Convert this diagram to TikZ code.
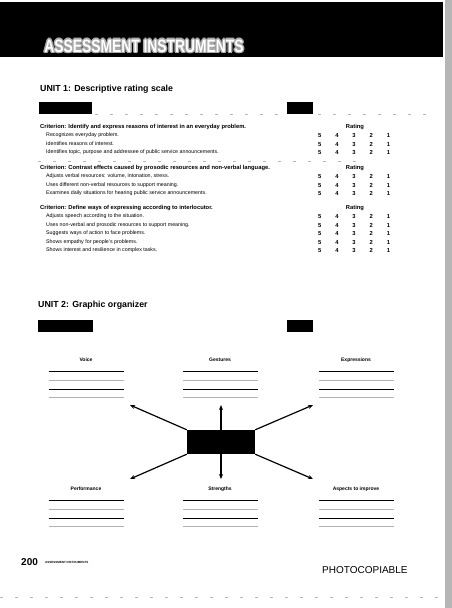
\documentclass[tikz,border=0pt]{standalone}
\usepackage{fontspec}
\setmainfont{Liberation Sans}
\usepackage{graphicx}
\usepackage{tikz}
\usetikzlibrary{arrows.meta,calc,positioning}
\definecolor{scangray}{RGB}{150,150,150}
\definecolor{halogray}{RGB}{170,170,170}
\newcommand{\bannertitle}{\scalebox{0.77}[1]{ASSESSMENT INSTRUMENTS}}

\tikzset{
  bannerfont/.style={font=\fontsize{18}{18}\selectfont\bfseries, inner sep=0},
  unithead/.style={anchor=west, font=\fontsize{8.8}{9}\selectfont\bfseries, inner sep=0},
  crit/.style={anchor=west, font=\fontsize{5.8}{6.5}\selectfont\bfseries, inner sep=0},
  item/.style={anchor=west, font=\fontsize{5.3}{6}\selectfont, inner sep=0},
  score/.style={anchor=base, font=\fontsize{5.8}{6}\selectfont\bfseries, inner sep=0},
  blackbox/.style={fill=black, inner sep=0, anchor=north west},
  orghead/.style={font=\fontsize{5}{6}\selectfont\bfseries, inner sep=0},
  scanrule/.style={scangray!70, dash pattern=on 3pt off 12pt, line width=0.6pt},
  arrowline/.style={->, line width=1.2pt},
}

\begin{document}
\begin{tikzpicture}[x=1pt, y=-1pt, >={Stealth[length=5pt, width=4pt]}]
    \useasboundingbox (0,0) rectangle (452,608);

    % Banner
    \fill[black] (0,2) rectangle (443,57);
    \fill[scangray!70] (445,0) rectangle (452,608);
    \foreach \dx/\dy [count=\i] in {-1.5/0,1.5/0,0/-1.5,0/1.5,-1/-1,1/1,-1/1,1/-1}
        \node[bannerfont, text=halogray] (halo\i) at (144+\dx,46+\dy) {\bannertitle};
    \node[bannerfont, text=white] (banner) at (144,46) {\bannertitle};

    % Unit 1: rating scale
    \node[unithead] (unitone) at (40,89) {UNIT 1: Descriptive rating scale};
    \node[blackbox, minimum width=53, minimum height=12] (nameone) at (39,102) {};
    \node[blackbox, minimum width=26, minimum height=12] (dateone) at (287,102) {};
    \draw[scanrule] (95,114) -- (285,114);
    \draw[scanrule] (318,114) -- (430,114);

    \node[crit] (critone) at (40,127) {Criterion: Identify and express reasons of interest in an everyday problem.};
    \node[crit, anchor=center] (rateone) at (355,127) {Rating};
    \foreach \txt [count=\r] in {Recognizes everyday problem., Identifies reasons of interest.,
        {Identifies topic, purpose and addressee of public service announcements.}} {
        \node[item] (one\r) at (46,127+8.5*\r) {\txt};
        \foreach \s [count=\c] in {5,4,3,2,1}
            \node[score] (one\r-\c) at (302.5+17.2*\c,129+8.5*\r) {\s};
    }
    \draw[scanrule] (38,161) -- (367,161);

    \node[crit] (crittwo) at (40,168) {Criterion: Contrast effects caused by prosodic resources and non-verbal language.};
    \node[crit, anchor=center] (ratetwo) at (355,168) {Rating};
    \foreach \txt [count=\r] in {{Adjusts verbal resources: volume, intonation, stress.},
        Uses different non-verbal resources to support meaning.,
        Examines daily situations for hearing public service announcements.} {
        \node[item] (two\r) at (46,168+8.5*\r) {\txt};
        \foreach \s [count=\c] in {5,4,3,2,1}
            \node[score] (two\r-\c) at (302.5+17.2*\c,170+8.5*\r) {\s};
    }

    \node[crit] (critthree) at (40,208) {Criterion: Define ways of expressing according to interlocutor.};
    \node[crit, anchor=center] (ratethree) at (355,208) {Rating};
    \foreach \txt [count=\r] in {Adjusts speech according to the situation.,
        Uses non-verbal and prosodic resources to support meaning.,
        Suggests ways of action to face problems.,
        Shows empathy for people's problems.,
        Shows interest and resilience in complex tasks.} {
        \node[item] (three\r) at (46,208+8.5*\r) {\txt};
        \foreach \s [count=\c] in {5,4,3,2,1}
            \node[score] (three\r-\c) at (302.5+17.2*\c,210+8.5*\r) {\s};
    }

    % Unit 2: graphic organizer
    \node[unithead] (unittwo) at (38,305) {UNIT 2: Graphic organizer};
    \node[blackbox, minimum width=55, minimum height=12] (nametwo) at (38,320) {};
    \node[blackbox, minimum width=26, minimum height=12] (datetwo) at (287,320) {};

    \foreach \nm/\x/\y/\lbl in {voice/86/360/Voice, gestures/220/360/Gestures, expressions/356/360/Expressions,
        performance/86/489/Performance, strengths/220/489/Strengths, aspects/356/489/Aspects to improve} {
        \node[orghead] (\nm) at (\x,\y) {\lbl};
        \draw[line width=0.9pt] (\x-37.5,\y+11.5) -- ++(75,0);
        \draw[line width=0.9pt, gray!60] (\x-37.5,\y+20.5) -- ++(75,0);
        \draw[line width=0.9pt] (\x-37.5,\y+29) -- ++(75,0);
        \draw[line width=0.9pt, gray!60] (\x-37.5,\y+37.5) -- ++(75,0);
    }

    \node[fill=black, inner sep=0, minimum width=68, minimum height=24] (centre) at (221,442) {};
    \coordinate (voicetip) at (130,405);
    \coordinate (gesturestip) at (221,405);
    \coordinate (expressionstip) at (313,405);
    \coordinate (performancetip) at (130,479);
    \coordinate (strengthstip) at (221,479);
    \coordinate (aspectstip) at (313,479);
    \draw[arrowline] (centre.north west) -- (voicetip);
    \draw[arrowline] (centre.north) -- (gesturestip);
    \draw[arrowline] (centre.north east) -- (expressionstip);
    \draw[arrowline] (centre.south west) -- (performancetip);
    \draw[arrowline] (centre.south) -- (strengthstip);
    \draw[arrowline] (centre.south east) -- (aspectstip);

    % Footer
    \node[anchor=west, inner sep=0, font=\fontsize{10}{10}\selectfont\bfseries] (pagenum) at (21,562) {200};
    \node[anchor=west, inner sep=0, font=\fontsize{3}{3}\selectfont\bfseries] (foottitle) at (45,562) {ASSESSMENT INSTRUMENTS};
    \node[anchor=west, inner sep=0, font=\fontsize{10}{10}\selectfont] (photocopy) at (322,570) {PHOTOCOPIABLE};
    \draw[scanrule] (0,597) -- (452,597);
\end{tikzpicture}
\end{document}
